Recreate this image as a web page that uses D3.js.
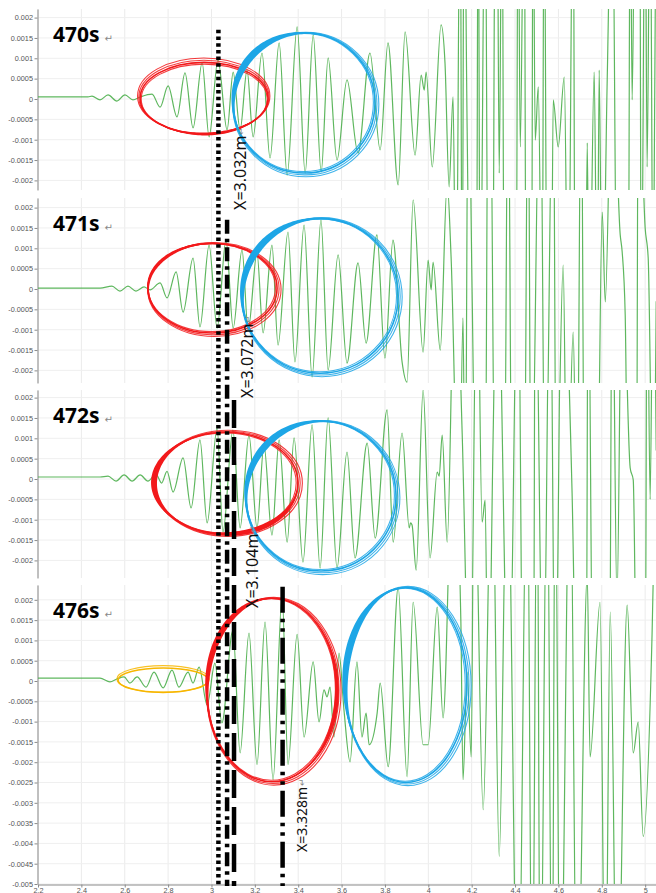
<!DOCTYPE html>
<html><head><meta charset="utf-8">
<script src="https://cdn.jsdelivr.net/npm/d3@7/dist/d3.min.js"></script>
<style>html,body{margin:0;padding:0;background:#fff;}svg{display:block;}</style>
</head><body>
<svg id="chart" width="656" height="893"></svg>
<script>
// ---------------- data ----------------
const panelLabels = ["470s", "471s", "472s", "476s"];
const xTicks = [2.2, 2.4, 2.6, 2.8, 3.0, 3.2, 3.4, 3.6, 3.8, 4.0, 4.2, 4.4, 4.6, 4.8, 5.0];
const yTicksShort = [-0.002, -0.0015, -0.001, -0.0005, 0, 0.0005, 0.001, 0.0015, 0.002];
const yTicksLong = [-0.005, -0.0045, -0.004, -0.0035, -0.003, -0.0025, -0.002, -0.0015, -0.001, -0.0005, 0, 0.0005, 0.001, 0.0015, 0.002];

// signal at 470 s  [x (m), value]
const s470 = [[2.200,0.00005],[2.431,0.00005],[2.449,0.00007],[2.486,-0.00002],[2.523,0.0001],[2.564,-0.00005],[2.601,0.0001],[2.638,-0.00002],[2.671,0.00005],[2.726,0.00012],[2.763,-0.0002],[2.800,0.00032],[2.841,-0.00044],[2.878,0.00064],[2.915,-0.00071],[2.957,0.00089],[2.989,-0.00093],[3.030,0.00096],[3.072,-0.00076],[3.100,0.00066],[3.132,-0.00076],[3.164,0.00071],[3.192,-0.00093],[3.233,0.00113],[3.270,-0.00145],[3.312,0.00138],[3.349,-0.00187],[3.395,0.00177],[3.432,-0.00182],[3.469,0.00157],[3.506,-0.00179],[3.538,0.00101],[3.579,-0.0015],[3.625,0.00047],[3.676,-0.00133],[3.731,0.00113],[3.778,-0.00125],[3.814,0.00138],[3.861,-0.00211],[3.893,0.00165],[3.939,-0.00138],[3.967,0.00059],[3.981,0.00022],[3.990,0.00066],[4.018,-0.00167],[4.059,0.00182],[4.077,0.00088],[4.096,-0.00216],[4.114,0.00005],[4.128,-0.006],[4.147,0.006],[4.156,-0.006],[4.165,0.006],[4.179,-0.00071],[4.193,-0.006],[4.222,-0.006],[4.230,0.006],[4.239,-0.006],[4.262,0.006],[4.276,-0.006],[4.298,-0.006],[4.304,0.00194],[4.317,0.006],[4.327,-0.00182],[4.340,0.006],[4.350,-0.006],[4.405,-0.006],[4.414,0.006],[4.424,-0.00118],[4.442,0.006],[4.451,-0.006],[4.476,-0.006],[4.483,0.006],[4.493,-0.00101],[4.507,0.0003],[4.525,-0.006],[4.534,0.006],[4.548,-0.006],[4.567,-0.006],[4.576,-0.00002],[4.599,-0.00118],[4.627,0.00054],[4.645,-0.006],[4.668,0.006],[4.677,-0.006],[4.724,-0.006],[4.733,-0.00108],[4.742,-0.006],[4.765,0.00066],[4.779,-0.006],[4.788,0.00071],[4.802,-0.006],[4.825,0.00047],[4.848,0.006],[4.871,-0.006],[4.922,-0.006],[4.931,0.006],[4.940,-0.00002],[4.954,0.006],[4.975,0.006],[4.982,-0.006],[5.000,0.006],[5.009,-0.00167],[5.023,0.006],[5.037,-0.006],[5.051,0.006]];

// signal at 471 s
const s471 = [[2.200,0.00002],[2.486,0.00002],[2.541,0.00007],[2.578,-0.00005],[2.615,0.00007],[2.652,-0.00005],[2.689,0.00005],[2.717,-0.00002],[2.763,0.00015],[2.795,-0.00022],[2.837,0.00042],[2.869,-0.00057],[2.915,0.00076],[2.947,-0.00093],[2.989,0.00108],[3.026,-0.00096],[3.067,0.0012],[3.100,-0.00096],[3.141,0.00096],[3.169,-0.00101],[3.210,0.00088],[3.238,-0.00108],[3.279,0.00108],[3.307,-0.00138],[3.353,0.0014],[3.385,-0.00179],[3.427,0.00157],[3.464,-0.00216],[3.505,0.0017],[3.538,-0.00199],[3.584,0.00084],[3.625,-0.00182],[3.676,0.00064],[3.713,-0.00133],[3.763,0.00133],[3.800,-0.0017],[3.837,0.0012],[3.879,-0.00179],[3.902,-0.00229],[3.930,0.00219],[3.976,-0.00155],[3.999,0.00071],[4.013,-0.00002],[4.022,0.00066],[4.055,-0.0015],[4.087,0.0026],[4.105,0.00079],[4.142,-0.006],[4.160,-0.00071],[4.170,-0.006],[4.184,0.006],[4.202,-0.00007],[4.220,-0.006],[4.262,-0.006],[4.276,0.006],[4.285,0.006],[4.308,-0.006],[4.350,-0.006],[4.368,0.006],[4.386,-0.006],[4.442,-0.006],[4.460,0.006],[4.474,-0.006],[4.516,0.006],[4.539,-0.006],[4.576,0.006],[4.590,-0.006],[4.622,0.00059],[4.640,-0.006],[4.668,-0.00106],[4.686,-0.006],[4.705,0.006],[4.720,-0.006],[4.778,-0.006],[4.802,0.00189],[4.816,-0.00032],[4.848,0.006],[4.885,0.00133],[4.894,0.00091],[4.908,-0.00064],[4.922,-0.006],[4.960,-0.006],[4.968,0.006],[5.000,0.0015],[5.014,0.00076],[5.037,-0.006],[5.051,-0.0003]];

// signal at 472 s
const s472 = [[2.200,0.00005],[2.486,0.00005],[2.523,0.00007],[2.560,-0.00005],[2.597,0.0001],[2.634,-0.00005],[2.671,0.0001],[2.707,-0.00005],[2.744,0.00012],[2.770,-0.0001],[2.795,0.00019],[2.823,-0.00032],[2.869,0.00052],[2.906,-0.00071],[2.947,0.00096],[2.980,-0.00108],[3.026,0.00125],[3.053,-0.0013],[3.099,0.0012],[3.132,-0.0012],[3.173,0.00108],[3.210,-0.0012],[3.242,0.00084],[3.279,-0.00138],[3.312,0.00096],[3.349,-0.00155],[3.381,0.00101],[3.422,-0.00204],[3.464,0.00133],[3.501,-0.00219],[3.538,0.0015],[3.579,-0.00219],[3.625,0.00066],[3.662,-0.00194],[3.718,0.00088],[3.755,-0.00145],[3.810,0.0017],[3.838,-0.00155],[3.879,0.00113],[3.912,-0.0012],[3.918,-0.00108],[3.925,-0.00113],[3.944,-0.00224],[3.976,0.00219],[4.008,-0.00194],[4.041,0.00017],[4.050,0.00007],[4.064,0.00108],[4.087,-0.00155],[4.124,0.006],[4.156,0.00115],[4.193,-0.006],[4.225,0.006],[4.248,-0.00106],[4.262,-0.00052],[4.276,-0.006],[4.299,0.00108],[4.317,0.006],[4.372,-0.006],[4.414,0.006],[4.437,-0.006],[4.485,-0.006],[4.493,0.006],[4.530,-0.006],[4.562,0.006],[4.585,-0.006],[4.617,0.006],[4.663,-0.00034],[4.686,-0.006],[4.728,-0.006],[4.737,0.006],[4.760,-0.006],[4.835,-0.006],[4.848,0.006],[4.870,-0.003],[4.894,0.006],[4.931,0.00027],[4.945,-0.00002],[4.963,-0.006],[5.000,-0.006],[5.009,0.006],[5.023,-0.0005],[5.037,0.006],[5.051,0.0007]];

// signal at 476 s
const s476 = [[2.200,0.00007],[2.486,0.00007],[2.532,-0.00002],[2.564,0.00005],[2.597,0.0001],[2.624,-0.00005],[2.657,0.0001],[2.698,-0.00015],[2.735,0.00022],[2.777,-0.00017],[2.818,0.00027],[2.850,-0.00015],[2.892,0.00022],[2.915,-0.00005],[2.943,0.00034],[2.980,-0.00059],[3.016,0.00044],[3.048,-0.00103],[3.099,0.00125],[3.132,-0.00177],[3.173,0.00118],[3.210,-0.00206],[3.247,0.00145],[3.284,-0.00243],[3.326,0.00211],[3.353,-0.00206],[3.395,0.00115],[3.427,-0.00138],[3.469,0.00047],[3.496,-0.00101],[3.519,-0.00022],[3.533,-0.00039],[3.547,-0.00015],[3.565,-0.00138],[3.588,0.00069],[3.611,-0.00071],[3.639,-0.00199],[3.671,0.00047],[3.694,-0.00138],[3.713,-0.00079],[3.727,-0.00157],[3.764,-0.00079],[3.778,-0.00005],[3.815,-0.00211],[3.861,0.00231],[3.902,-0.00236],[3.930,0.00194],[3.976,-0.00157],[3.999,-0.00157],[4.041,0.00182],[4.068,-0.00091],[4.115,0.006],[4.150,0.0015],[4.160,-0.00243],[4.179,0.00022],[4.198,-0.00187],[4.211,0.006],[4.253,-0.00317],[4.294,0.006],[4.327,-0.00432],[4.364,0.006],[4.414,-0.009],[4.456,0.006],[4.479,-0.009],[4.502,0.006],[4.516,-0.009],[4.548,0.006],[4.571,-0.009],[4.585,0.006],[4.608,-0.009],[4.654,0.006],[4.686,-0.009],[4.733,0.0026],[4.746,-0.00187],[4.792,0.00194],[4.816,-0.009],[4.839,0.0017],[4.871,-0.009],[4.917,0.00187],[4.945,-0.00177],[4.968,-0.00101],[4.991,-0.00383],[5.032,0.00118],[5.051,0.006]];

const seriesList = [s470, s471, s472, s476];

// front position markers (vertical lines)
const markerX = [3.032, 3.072, 3.104, 3.328];
const markerLabels = ["X=3.032m", "X=3.072m", "X=3.104m", "X=3.328m"];
const markerStartPanel = [0, 1, 2, 3];
const markerStartY = [0.0017, 0.0017, 0.00194, 0.00232];
const labelPanel = [0, 1, 2, 3];
const labelY = [-0.002727, -0.002678, -0.003169, -0.004212];

// ellipse annotations (data units)
const ellPanel = [0, 0, 1, 1, 2, 2, 3, 3, 3];
const ellKind  = ["red","blue","red","blue","red","blue","yellow","red","blue"];
const ellCx    = [2.966, 3.427, 3.005, 3.501, 3.067, 3.505, 2.777, 3.279, 3.897];
const ellCy    = [0.00002, -0.0001, 0.00002, -0.00017, -0.0001, -0.00042, 0.00002, -0.00022, -0.0001];
const ellRx    = [0.295, 0.327, 0.2975, 0.360, 0.332, 0.346, 0.208, 0.300, 0.281];
const ellRy    = [0.00088, 0.00172, 0.0011, 0.0019, 0.00125, 0.00184, 0.0003, 0.00226, 0.0024];

// ---------------- styles / layout ----------------
const kindColor = {red: "#f2191b", blue: "#1da6e6", yellow: "#f7b600"};
const ellLobes = [[[80,3]],[[220,7]],[[215,3.5]],[[215,7]],[[185,6],[60,5]],[[220,7]],[[90,0]],[[215,6],[10,4]],[[205,7]]];
const markerDash = ["3.5,3.2", "14,5,3.5,5", "28,9", "26,6,3.5,6,3.5,6"];
const labelDx = [22, 20, 18, 18.5];
const labelSize = [16, 16, 16, 14];

const svg = d3.select('#chart');
const x = d3.scaleLinear().domain([2.2, 5.05]).range([38, 656]);
const fmt = d => String(+d.toFixed(4));

const frames = [
  {top: 9,   bottom: 190, yMin: -0.002236, yMax: 0.002211, ticks: yTicksShort},
  {top: 198, bottom: 383, yMin: -0.00231,  yMax: 0.002236, ticks: yTicksShort},
  {top: 390, bottom: 578, yMin: -0.002432, yMax: 0.002187, ticks: yTicksShort},
  {top: 585, bottom: 884, yMin: -0.005,    yMax: 0.002365, ticks: yTicksLong}
];
frames.forEach(f => f.y = d3.scaleLinear().domain([f.yMin, f.yMax]).range([f.bottom, f.top]));

const defs = svg.append('defs');
const gridLayer = svg.append('g');
const lineLayer = svg.append('g');
const annLayer = svg.append('g');
const markLayer = svg.append('g');
const textLayer = svg.append('g');

function styleAxis(ax) {
  ax.select('.domain').attr('stroke', '#8a8a8a');
  ax.selectAll('.tick line').attr('stroke', '#8a8a8a');
  ax.selectAll('.tick text').attr('fill', '#555').style('font-family', '"Liberation Sans", Arial, sans-serif').style('font-size', '7.3px');
}

frames.forEach((f, i) => {
  const g = gridLayer.append('g');
  g.selectAll('line.vg').data(xTicks).join('line').attr('class', 'vg')
    .attr('x1', d => x(d)).attr('x2', d => x(d)).attr('y1', f.top).attr('y2', f.bottom)
    .attr('stroke', '#ebebeb').attr('stroke-width', 1);
  g.selectAll('line.hg').data(f.ticks).join('line').attr('class', 'hg')
    .attr('x1', 38).attr('x2', 656).attr('y1', d => f.y(d)).attr('y2', d => f.y(d))
    .attr('stroke', '#efefef').attr('stroke-width', 1);
  const ax = g.append('g').attr('transform', 'translate(37.5,0)')
    .call(d3.axisLeft(f.y).tickValues(f.ticks).tickFormat(fmt).tickSize(3).tickSizeOuter(0).tickPadding(1.5));
  styleAxis(ax);
  if (i === 3) {
    const bx = g.append('g').attr('transform', `translate(0,${f.bottom + 0.5})`)
      .call(d3.axisBottom(x).tickValues(xTicks).tickFormat(fmt).tickSize(3).tickSizeOuter(0).tickPadding(0.5));
    styleAxis(bx);
  }

  defs.append('clipPath').attr('id', 'clip' + i).append('rect')
    .attr('x', 38).attr('y', f.top).attr('width', 656 - 38).attr('height', f.bottom - f.top);

  const line = d3.line().x(d => x(d[0])).y(d => f.y(d[1])).curve(d3.curveMonotoneX);
  lineLayer.append('path').datum(seriesList[i]).attr('clip-path', `url(#clip${i})`)
    .attr('d', line).attr('fill', 'none').attr('stroke', '#4caf4c').attr('stroke-width', 1.2)
    .attr('stroke-opacity', 0.9).attr('stroke-linejoin', 'round');

  const t = textLayer.append('text').attr('x', 53).attr('y', f.top + 33)
    .style('font-family', '"Noto Sans", "DejaVu Sans", sans-serif').style('font-weight', 700).style('font-size', '21px')
    .attr('fill', '#000').text(panelLabels[i]);
  t.append('tspan').attr('dx', 5).style('font-size', '10px').style('font-weight', 400).attr('fill', '#888').text('↵');
});

// ellipse annotations: hand-drawn look = tapered thick band + a few thin loops
function bandPath(cx, cy, rx, ry, lobes) {
  const N = 200, outer = [], inner = [];
  for (let k = 0; k <= N; k++) {
    const t = k / N * 2 * Math.PI;
    let w = 0;
    lobes.forEach(([deg, W]) => { const c = Math.cos(t - deg * Math.PI / 180); if (c > 0) w += W * Math.pow(c, 3); });
    outer.push([cx + (rx + w / 2) * Math.cos(t), cy + (ry + w / 2) * Math.sin(t)]);
    inner.push([cx + (rx - w / 2) * Math.cos(t), cy + (ry - w / 2) * Math.sin(t)]);
  }
  const p = arr => 'M' + arr.map(q => q[0].toFixed(2) + ',' + q[1].toFixed(2)).join('L') + 'Z';
  return p(outer) + p(inner.reverse());
}
const strokeSpread = [0, 1.1, 2.2, -0.9];
ellCx.forEach((cxv, k) => {
  const f = frames[ellPanel[k]];
  const cx = x(cxv), cy = f.y(ellCy[k]);
  const rx = x(cxv + ellRx[k]) - cx, ry = f.y(ellCy[k]) - f.y(ellCy[k] + ellRy[k]);
  const col = kindColor[ellKind[k]];
  const lobes = ellLobes[k];
  const th = lobes[0][0] * Math.PI / 180;
  const spreads = ellKind[k] === 'yellow' ? [0, 1.2] : strokeSpread;
  spreads.forEach((d, j) => {
    annLayer.append('ellipse')
      .attr('cx', cx - d * Math.cos(th)).attr('cy', cy - d * Math.sin(th))
      .attr('rx', rx + d).attr('ry', ry + d)
      .attr('fill', 'none').attr('stroke', col).attr('stroke-width', j === 0 ? 1.6 : 1.1)
      .attr('stroke-opacity', j === 0 ? 1 : 0.85);
  });
  if (lobes.some(l => l[1] > 0)) {
    annLayer.append('path').attr('d', bandPath(cx, cy, rx, ry, lobes))
      .attr('fill', col).attr('fill-rule', 'evenodd');
  }
});

// vertical position markers
markerX.forEach((mx, i) => {
  const px = x(mx);
  const y1 = frames[markerStartPanel[i]].y(markerStartY[i]);
  markLayer.append('line').attr('x1', px).attr('x2', px).attr('y1', y1).attr('y2', 886)
    .attr('stroke', '#000').attr('stroke-width', 4.5).attr('stroke-dasharray', markerDash[i]);
  const ly = frames[labelPanel[i]].y(labelY[i]);
  const lx = px + labelDx[i];
  const t = textLayer.append('text').attr('transform', `translate(${lx},${ly}) rotate(-90)`)
    .attr('text-anchor', 'start').attr('dominant-baseline', 'central')
    .style('font-family', '"Noto Sans", "Open Sans", sans-serif').style('font-size', labelSize[i] + 'px')
    .attr('fill', '#111').text(markerLabels[i]);
  t.append('tspan').attr('dx', 1).style('font-size', '9px').attr('fill', '#888').text('↵');
});
</script>
</body></html>
